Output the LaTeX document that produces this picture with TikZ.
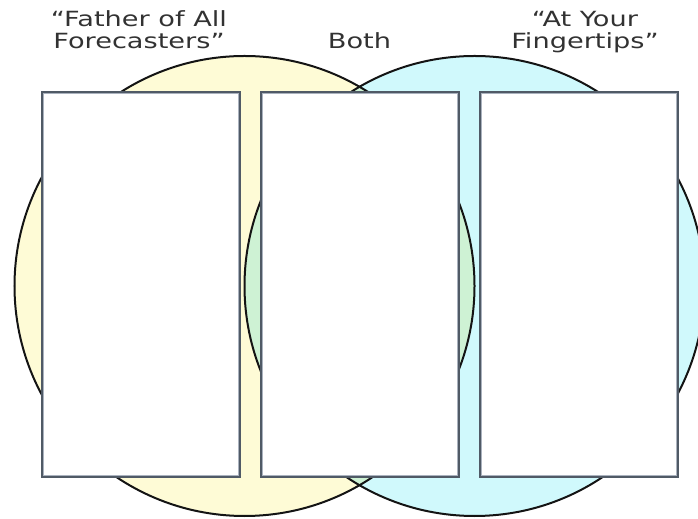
\documentclass[tikz,border=0pt]{standalone}
\usepackage{fontspec}
\setmainfont{DejaVu Sans}
\definecolor{vyellow}{RGB}{254,251,214}
\definecolor{vblue}{RGB}{208,249,252}
\definecolor{vgreen}{RGB}{206,242,212}
\definecolor{boxdark}{RGB}{80,90,102}
\definecolor{boxlight}{RGB}{170,178,190}
\definecolor{titlegray}{RGB}{50,50,50}
\newcommand{\widetxt}[1]{\scalebox{1.3}[1]{#1}}
\begin{document}
\begin{tikzpicture}[x=1bp,y=1bp,
  venn/.style={circle, minimum size=460bp, inner sep=0pt},
  vennline/.style={draw=black!92, line width=2bp},
  answerbox/.style={rectangle, draw=boxdark, line width=1.6bp, fill=white,
     minimum width=198bp, minimum height=385bp, inner sep=0pt},
  innerframe/.style={draw=boxlight, line width=1.5bp},
  titletext/.style={font=\fontsize{21}{23}\selectfont, text=titlegray, align=center, inner sep=0pt, anchor=base}
]
\useasboundingbox (0,0) rectangle (698,519);
\clip (0,0) rectangle (698,519);
% circles
\node[venn, fill=vyellow] (left) at (244.5,233) {};
\node[venn, fill=vblue] (right) at (474.5,233) {};
\begin{scope}
  \clip (244.5,233) circle (230);
  \fill[vgreen] (474.5,233) circle (230);
\end{scope}
\node[venn, vennline] at (left) {};
\node[venn, vennline] at (right) {};
% boxes
\foreach \n/\x in {b1/141, b2/360, b3/579}{
  \node[answerbox] (\n) at (\x,234.5) {};
  \draw[innerframe] ([shift={(2.4,-2.4)}]\n.north west) rectangle ([shift={(-2.4,2.4)}]\n.south east);
}
% titles
\node[titletext] (tleft) at (139,470) {\widetxt{“Father of All}\\\widetxt{Forecasters”}};
\node[titletext] (tboth) at (359.5,470) {\widetxt{Both}};
\node[titletext] (tright) at (585,470) {\widetxt{“At Your}\\\widetxt{Fingertips”}};
\end{tikzpicture}
\end{document}
